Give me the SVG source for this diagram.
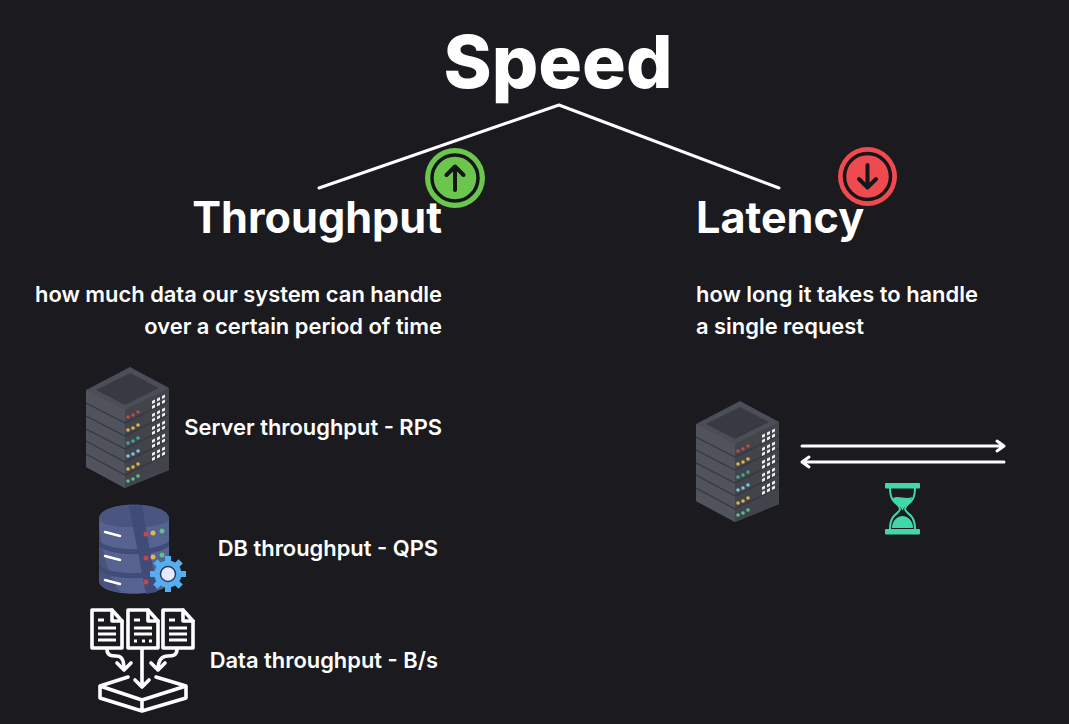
<svg xmlns="http://www.w3.org/2000/svg" xmlns:xlink="http://www.w3.org/1999/xlink" width="1069" height="724" viewBox="0 0 1069 724">
<style>
text{font-family:"Inter","Liberation Sans",sans-serif;fill:#fff}
.title{font-size:73px;font-weight:800}
.head{font-size:43.200px;font-weight:700}
.body{font-size:21.900px;font-weight:600}
.line{fill:none;stroke:#fff;stroke-width:3;stroke-linecap:round;stroke-linejoin:round}
.out{fill:none;stroke:#fff;stroke-width:3.600;stroke-linejoin:round;stroke-linecap:round}
.thin{fill:none;stroke:#fff;stroke-width:3;stroke-linecap:butt}
</style>
<defs>
<g id="server">
<path d="M86 390L130 367L169 388V470L125 488L86 467Z" fill="#4b4e57"/>
<path d="M86 390L125 410V488L86 467Z" fill="#50535c"/>
<path d="M125 410L169 388V470L125 488Z" fill="#42444c"/>
<path d="M96 390L130 373L159 388L125 405Z" fill="#383a42"/>
<path d="M86 403L125 423L169 401M86 416L125 436L169 414M86 429L125 449L169 427M86 441L125 462L169 440M86 454L125 475L169 453" fill="none" stroke="#36373e" stroke-width="1.200"/>
<g fill="#b84a50"><circle cx="128" cy="417" r="1.800"/><circle cx="133" cy="415" r="1.800"/><circle cx="138" cy="412" r="1.800"/></g>
<g fill="#d9b44a"><circle cx="128" cy="430" r="1.800"/><circle cx="133" cy="428" r="1.800"/><circle cx="138" cy="425" r="1.800"/></g>
<g fill="#3fa98a"><circle cx="128" cy="443" r="1.800"/><circle cx="133" cy="441" r="1.800"/><circle cx="138" cy="438" r="1.800"/></g>
<g fill="#7cc4e0"><circle cx="128" cy="456" r="1.800"/><circle cx="133" cy="454" r="1.800"/><circle cx="138" cy="451" r="1.800"/></g>
<g fill="#d9b44a"><circle cx="128" cy="469" r="1.800"/><circle cx="133" cy="467" r="1.800"/><circle cx="138" cy="464" r="1.800"/></g>
<g fill="#5cc08a"><circle cx="128" cy="481" r="1.800"/><circle cx="133" cy="479" r="1.800"/><circle cx="138" cy="476" r="1.800"/></g>
<g fill="#eeeeee">
<path d="M152 401l3-1.500v3l-3 1.500zM157 398.500l3-1.500v3l-3 1.500zM162 396l3-1.500v3l-3 1.500zM152 406l3-1.500v3l-3 1.500zM157 403.500l3-1.500v3l-3 1.500zM162 401l3-1.500v3l-3 1.500z"/>
<path d="M152 414l3-1.500v3l-3 1.500zM157 411.500l3-1.500v3l-3 1.500zM162 409l3-1.500v3l-3 1.500zM152 419l3-1.500v3l-3 1.500zM157 416.500l3-1.500v3l-3 1.500zM162 414l3-1.500v3l-3 1.500z"/>
<path d="M152 427l3-1.500v3l-3 1.500zM157 424.500l3-1.500v3l-3 1.500zM162 422l3-1.500v3l-3 1.500zM152 432l3-1.500v3l-3 1.500zM157 429.500l3-1.500v3l-3 1.500zM162 427l3-1.500v3l-3 1.500z"/>
<path d="M152 440l3-1.500v3l-3 1.500zM157 437.500l3-1.500v3l-3 1.500zM162 435l3-1.500v3l-3 1.500zM152 445l3-1.500v3l-3 1.500zM157 442.500l3-1.500v3l-3 1.500zM162 440l3-1.500v3l-3 1.500z"/>
<path d="M152 453l3-1.500v3l-3 1.500zM157 450.500l3-1.500v3l-3 1.500zM162 448l3-1.500v3l-3 1.500zM152 458l3-1.500v3l-3 1.500zM157 455.500l3-1.500v3l-3 1.500zM162 453l3-1.500v3l-3 1.500z"/>
</g>
</g>
<g id="doc">
<path d="M92 610H112L122 621V648H92Z" class="out"/>
<path d="M112 610V621H122" class="out"/>
</g>
</defs>
<rect width="1069" height="724" fill="#1a1a1f"/>

<g id="connectors">
<path class="line" d="M319 188L559 105L779 188"/>
<path class="line" d="M802 446H1004M997 441L1004 446L997 451"/>
<path class="line" d="M1004 462H802M809 457L802 462L809 467"/>
</g>

<g id="speed"><text class="title" x="558" y="88" text-anchor="middle">Speed</text></g>

<g id="throughput">
<text class="head" x="442" y="233" text-anchor="end">Throughput</text>
<text class="body" x="442" y="302" text-anchor="end">how much data our system can handle</text>
<text class="body" x="442" y="334" text-anchor="end">over a certain period of time</text>
</g>
<g id="up-badge">
<circle cx="455" cy="178" r="30" fill="#6cc64d"/>
<circle cx="455" cy="178" r="23" fill="none" stroke="#15161a" stroke-width="3.500"/>
<path d="M455 190V167M446.500 175L455 166.500L463.500 175" fill="none" stroke="#15161a" stroke-width="4" stroke-linecap="round" stroke-linejoin="round"/>
</g>

<g id="latency">
<text class="head" x="696" y="233">Latency</text>
<text class="body" x="696" y="302">how long it takes to handle</text>
<text class="body" x="696" y="334">a single request</text>
</g>
<g id="down-badge">
<circle cx="867.500" cy="176.500" r="29.500" fill="#ef4a50"/>
<circle cx="867.500" cy="176.500" r="23" fill="none" stroke="#15161a" stroke-width="3.500"/>
<path d="M867.500 165V187M859 179L867.500 187.500L876 179" fill="none" stroke="#15161a" stroke-width="4" stroke-linecap="round" stroke-linejoin="round"/>
</g>

<g id="server-throughput">
<use href="#server"/>
<text class="body" x="442" y="435" text-anchor="end">Server throughput - RPS</text>
</g>

<g id="db-throughput">
<path d="M99 519C99 500 169 500 169 519V581C169 598 99 598 99 581Z" fill="#56628f"/>
<path d="M99 519C99 530 169 530 169 519C169 500 99 500 99 519Z" fill="#4a5582"/>
<path d="M99 519C101 560 115 590 122 592C110 592 99 586 99 581Z" fill="#48537f"/>
<path d="M129 506L142 505L157 592L146 594Z" fill="#414b77"/>
<path d="M99 541C110 552 158 552 169 541V546C158 557 110 557 99 546ZM99 565C110 576 158 576 169 565V570C158 581 110 581 99 570Z" fill="#414b77"/>
<path d="M105 532L120 536M105 556L120 560M105 580L120 584" stroke="#fff" stroke-width="2.500" stroke-linecap="round"/>
<circle cx="146" cy="534" r="2.500" fill="#c4454f"/><circle cx="153" cy="533" r="2.500" fill="#e0b94a"/><circle cx="162" cy="531" r="2.500" fill="#5cc08a"/>
<circle cx="146" cy="558" r="2.500" fill="#c4454f"/><circle cx="153" cy="557" r="2.500" fill="#e0b94a"/><circle cx="162" cy="555" r="2.500" fill="#5cc08a"/>
<circle cx="146" cy="582" r="2.500" fill="#c4454f"/>
<circle cx="168" cy="574" r="13.500" fill="#55aef0"/>
<path d="M168 556V592M150 574H186M155.300 561.300L180.700 586.700M155.300 586.700L180.700 561.300" stroke="#55aef0" stroke-width="6"/>
<circle cx="168" cy="574" r="7.500" fill="#e6eaff" stroke="#2b3a66" stroke-width="1.500"/>
<text class="body" x="438" y="556" text-anchor="end">DB throughput - QPS</text>
</g>

<g id="data-throughput">
<use href="#doc"/>
<use href="#doc" x="36"/>
<use href="#doc" x="71"/>
<path class="thin" d="M98 620H104M98 628H116M98 634H116M98 640H116"/>
<path class="thin" d="M134 620H140M134 628H152M134 641H137M142 641H145M149 641H152M134 634H152"/>
<path class="thin" d="M169 620H175M169 628H187M169 634H187M169 640H187"/>
<path class="out" d="M107 649C107 656 112 656 116 656C122 656 124 660 124 670M117 663L124 670L131 663"/>
<path class="out" d="M142 649V687M135 680L142 687L149 680"/>
<path class="out" d="M177 649C177 656 172 656 168 656C162 656 158 660 158 670M151 663L158 670L165 663"/>
<path class="out" d="M128 677L100 686L142 700L186 686L156 677M100 686V698L142 711L186 698V686M142 700V711"/>
<text class="body" x="438" y="668" text-anchor="end">Data throughput - B/s</text>
</g>

<g id="latency-server"><use href="#server" x="610" y="34"/></g>

<g id="hourglass">
<rect x="885" y="483" width="35" height="5.500" rx="1" fill="#42d6a8"/>
<rect x="885" y="529" width="35" height="5.500" rx="1" fill="#42d6a8"/>
<path d="M890 488C890 505 900 503 900 509C900 514 890 513 890 529M915 488C915 505 905 503 905 509C905 514 915 513 915 529" fill="none" stroke="#42d6a8" stroke-width="2"/>
<path d="M893 498C898 495 906 500 912 497C911 505 904 505 903 510H902C901 505 894 505 893 498Z" fill="#42d6a8"/>
<path d="M892 528C892 520 898 516 902.500 516C907 516 913 520 913 528Z" fill="#42d6a8"/>
</g>
</svg>
